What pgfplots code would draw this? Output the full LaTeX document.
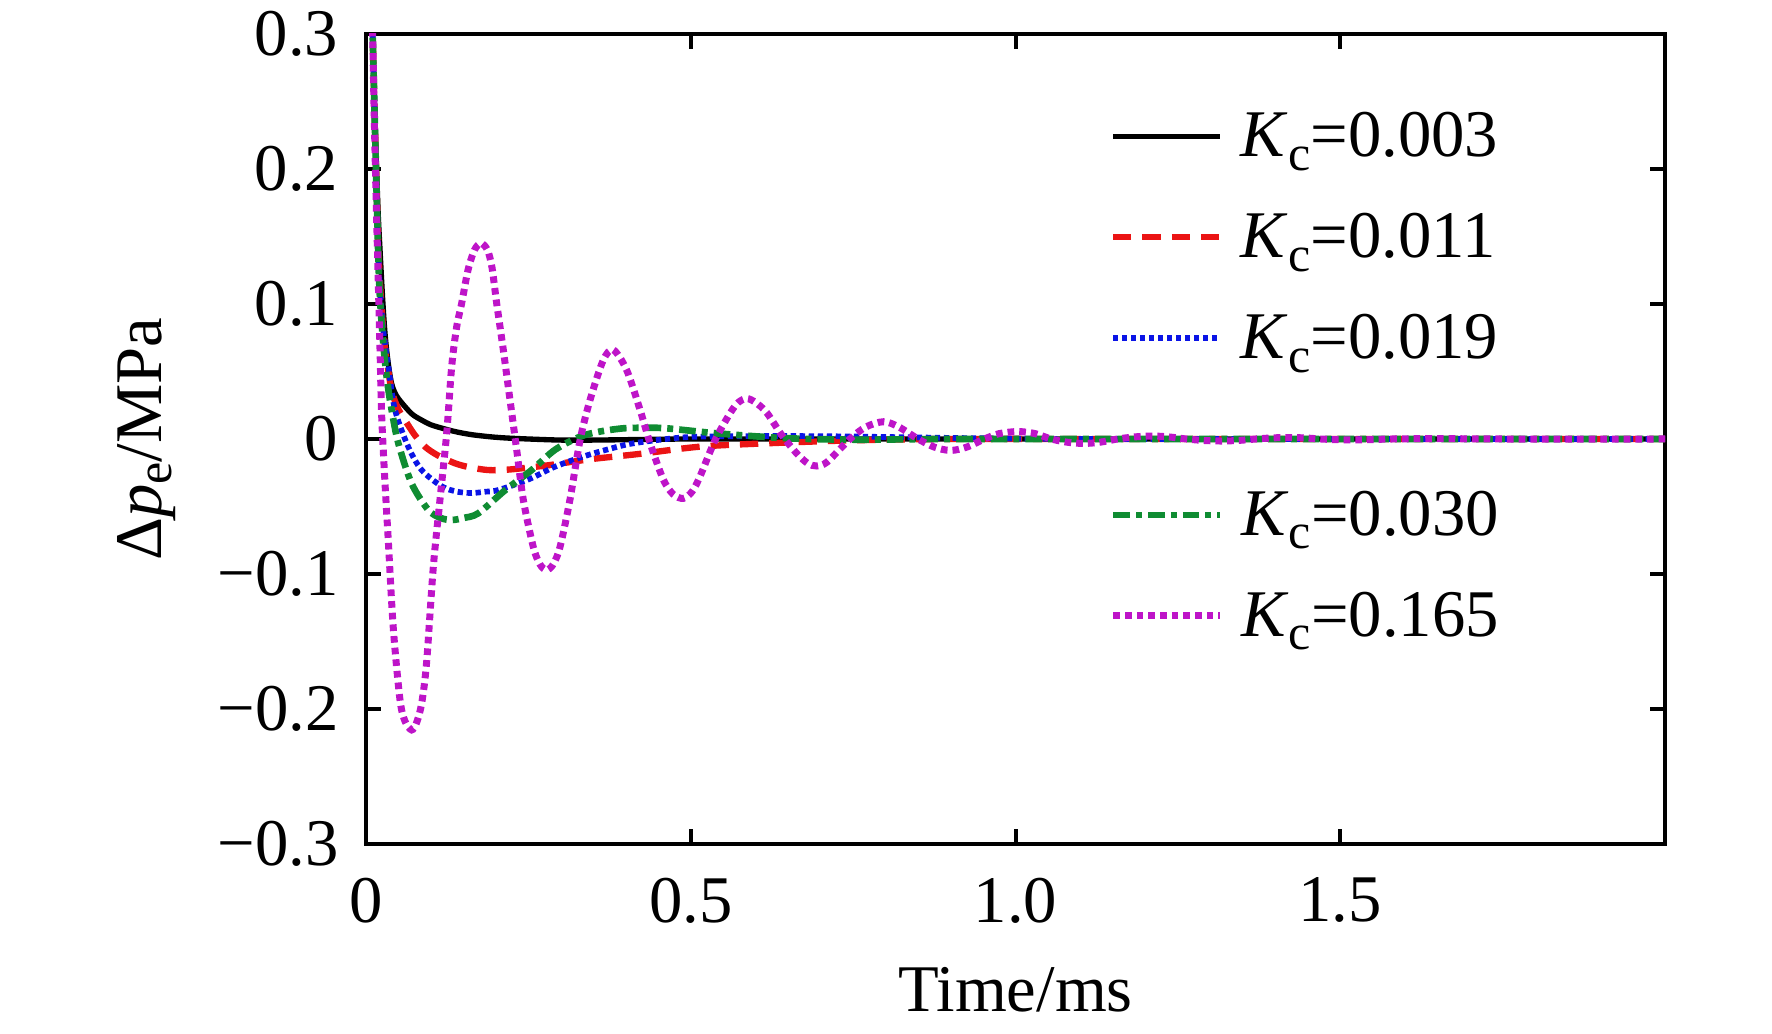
\documentclass[border=0pt]{standalone}
\usepackage{pgfplots}
\pgfplotsset{compat=1.18}
\usepackage{fontspec}
\setmainfont{Liberation Serif}
\definecolor{cblack}{RGB}{0,0,0}
\definecolor{cred}{RGB}{235,20,20}
\definecolor{cblue}{RGB}{10,20,230}
\definecolor{cgreen}{RGB}{15,140,50}
\definecolor{cmag}{RGB}{190,20,200}
\tikzset{
  sblack/.style={cblack, line width=1.6pt, solid},
  sred/.style={cred, line width=1.9pt, dash pattern=on 5.5pt off 3.3pt},
  sblue/.style={cblue, line width=1.7pt, dash pattern=on 1.6pt off 1.1pt},
  sgreen/.style={cgreen, line width=2pt, dash pattern=on 5pt off 1.8pt on 1.8pt off 1.8pt},
  smag/.style={cmag, line width=2.1pt, dash pattern=on 2pt off 1.5pt},
}
\newcommand{\bigf}{\fontsize{20}{24}\selectfont}
\newcommand{\lstrut}{\rule[-5pt]{0pt}{20pt}}
\newcommand{\Kc}{\textit{K}\raisebox{-4pt}{\fontsize{15}{18}\selectfont c}}
\begin{document}
\begin{tikzpicture}
\begin{axis}[name=ax, scale only axis, width=389.7pt, height=243pt,
  xmin=0, xmax=2, ymin=-0.3, ymax=0.3,
  xtick={0,0.5,1,1.5}, xticklabels={0,0.5,1.0,1.5},
  ytick={-0.3,-0.2,-0.1,0,0.1,0.2,0.3},
  yticklabels={−0.3,−0.2,−0.1,0,0.1,0.2,0.3},
  tick align=inside, major tick length=4.5pt,
  axis line style={line width=1.2pt},
  every tick/.style={black, line width=1.2pt},
  tick label style={font=\bigf},
  yticklabel style={inner sep=0pt, xshift=-8.1pt},
  xticklabel style={inner sep=0pt, yshift=-9.9pt},
  label style={font=\bigf},
  xlabel={Time/ms},
  ylabel={Δ\textit{p}\raisebox{-3pt}{\fontsize{15}{18}\selectfont e}/MPa},
  x label style={at={(axis description cs:0.5,-0.2062)}, anchor=base},
  y label style={at={(axis description cs:-0.1571,0.5)}, anchor=base},
  legend cell align=left,
  legend image code/.code={\draw[#1] (0pt,-0.6pt) -- (32pt,-0.6pt);},
  legend style={at={(0.5727,0.9102)}, anchor=north west, draw=none, fill=none,
    inner sep=0pt, outer sep=0pt, row sep=13.8pt, column sep=5.4pt,
    font=\bigf, nodes={inner sep=0pt}},
]
\addplot[sblack, smooth] coordinates {
(0.006,0.40) (0.0103,0.30) (0.0150,0.22) (0.0185,0.17) (0.0216,0.14) (0.0255,0.105)
(0.0293,0.078) (0.034,0.057) (0.0395,0.041) (0.047,0.032) (0.060,0.024) (0.072,0.018)
(0.0857,0.014) (0.10,0.0105) (0.1216,0.0074) (0.14,0.0052) (0.1627,0.0032) (0.19,0.0017)
(0.214,0.0008) (0.25,0.0) (0.30,-0.0008) (0.35,-0.0008) (0.42,-0.0004) (0.5,0) (0.7,0) (1.0,0) (1.5,0) (2.0,0)
};
\addlegendentry{\lstrut\Kc=0.003}
\addplot[sred, smooth] coordinates {
(0.006,0.40) (0.0103,0.30) (0.0154,0.20) (0.020,0.13) (0.025,0.09) (0.030,0.065)
(0.0395,0.036) (0.05,0.022) (0.060,0.014) (0.075,0.003) (0.0908,-0.0057) (0.11,-0.012)
(0.137,-0.018) (0.16,-0.021) (0.188,-0.023) (0.215,-0.0228) (0.240,-0.0217) (0.283,-0.0193)
(0.345,-0.015) (0.422,-0.011) (0.514,-0.0057) (0.617,-0.0032) (0.75,-0.001) (0.9,0) (1.2,0) (1.6,0) (2.0,0)
};
\addlegendentry{\lstrut\Kc=0.011}
\addplot[sblue, smooth] coordinates {
(0.006,0.40) (0.0103,0.30) (0.0154,0.20) (0.020,0.125) (0.025,0.088) (0.030,0.068)
(0.0344,0.0536) (0.0447,0.0215) (0.065,-0.0057) (0.0857,-0.023) (0.1165,-0.035)
(0.14,-0.039) (0.1627,-0.040) (0.185,-0.039) (0.2037,-0.0378) (0.250,-0.030) (0.291,-0.0205)
(0.3346,-0.013) (0.37,-0.008) (0.4116,-0.0032) (0.4885,0.0012) (0.56,0.002) (0.6425,0.0022)
(0.72,0.002) (0.8,0.0015) (0.95,0.0005) (1.1,0) (1.5,0) (2.0,0)
};
\addlegendentry{\lstrut\Kc=0.019}
\addplot[sgreen, smooth, forget plot] coordinates {
(0.006,0.40) (0.0103,0.30) (0.0154,0.20) (0.020,0.12) (0.025,0.08) (0.0318,0.046)
(0.0395,0.0215) (0.0498,-0.0032) (0.0703,-0.033) (0.0960,-0.0526) (0.115,-0.0585) (0.132,-0.060)
(0.150,-0.0585) (0.173,-0.055) (0.214,-0.038) (0.255,-0.023) (0.291,-0.008) (0.3295,0.0017)
(0.36,0.0055) (0.396,0.0079) (0.43,0.0083) (0.463,0.0079) (0.540,0.0042) (0.6425,0.0007)
(0.75,-0.0005) (0.9,0) (1.2,0) (1.6,0) (2.0,0)
};
\addplot[smag, smooth, forget plot] coordinates {
(0.006,0.45) (0.0103,0.30) (0.0145,0.20) (0.019,0.115) (0.0216,0.066) (0.0242,0.0165)
(0.0293,-0.033) (0.0343,-0.075) (0.042,-0.140) (0.0523,-0.193) (0.060,-0.209) (0.0703,-0.2155)
(0.078,-0.210) (0.086,-0.195) (0.0934,-0.165) (0.1036,-0.095) (0.1139,-0.045) (0.1242,0.004)
(0.132,0.054) (0.1396,0.083) (0.1473,0.1005) (0.157,0.125) (0.167,0.140) (0.177,0.145)
(0.187,0.140) (0.194,0.127) (0.2012,0.1005) (0.2114,0.066) (0.2217,0.029) (0.232,-0.008)
(0.2422,-0.045) (0.2576,-0.080) (0.268,-0.093) (0.278,-0.097) (0.288,-0.093) (0.2987,-0.080)
(0.314,-0.045) (0.3295,-0.001) (0.345,0.029) (0.3654,0.0585) (0.3808,0.066) (0.4014,0.051)
(0.422,0.0215) (0.4373,-0.003) (0.4577,-0.030) (0.473,-0.041) (0.4885,-0.044) (0.502,-0.039)
(0.514,-0.028) (0.5373,-0.001) (0.5604,0.019) (0.573,0.027) (0.5861,0.030) (0.600,0.027)
(0.617,0.0195) (0.640,0.003) (0.663,-0.0106) (0.68,-0.018) (0.694,-0.020) (0.71,-0.017)
(0.745,0.0) (0.77,0.009) (0.797,0.0128) (0.82,0.009) (0.85,0.0) (0.875,-0.006) (0.9,-0.0085)
(0.925,-0.006) (0.952,0) (0.975,0.004) (1.004,0.0055) (1.03,0.004) (1.055,0) (1.08,-0.0024)
(1.105,-0.0033) (1.13,-0.0024) (1.157,0) (1.185,0.0016) (1.21,0.0022) (1.235,0.0016)
(1.263,0) (1.29,-0.0011) (1.318,-0.0015) (1.345,-0.001) (1.37,0) (1.395,0.0008) (1.42,0.0011)
(1.445,0.0008) (1.47,0) (1.5,-0.0006) (1.525,-0.0007) (1.55,-0.0004) (1.58,0) (1.65,0.0003)
(1.75,0) (2.0,0)
};
\end{axis}
\begin{axis}[scale only axis, width=389.7pt, height=243pt,
  xmin=0, xmax=2, ymin=-0.3, ymax=0.3, hide axis,
  legend cell align=left,
  legend image code/.code={\draw[#1] (0pt,-0.6pt) -- (32pt,-0.6pt);},
  legend style={at={(0.5727,0.4427)}, anchor=north west, draw=none, fill=none,
    inner sep=0pt, outer sep=0pt, row sep=13.8pt, column sep=5.4pt,
    font=\bigf, nodes={inner sep=0pt}},
]
\addlegendimage{sgreen}
\addlegendentry{\lstrut\Kc=0.030}
\addlegendimage{smag}
\addlegendentry{\lstrut\Kc=0.165}
\end{axis}
\pgfresetboundingbox
\path (ax.south west) ++(-109.8pt,-56.7pt) rectangle ([shift={(32.1pt,10.2pt)}]ax.north east);
\end{tikzpicture}
\end{document}
